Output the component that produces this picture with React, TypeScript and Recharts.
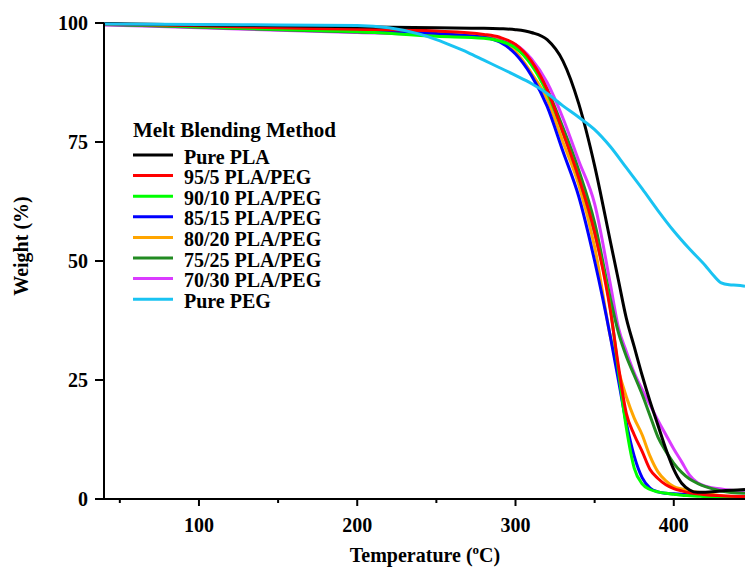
import React from 'react';
import { LineChart, Line, XAxis, YAxis, Legend } from 'recharts';

// temperatures (°C) shared by the PLA and blend curves
const blendTemps = [40, 100, 150, 200, 250, 280, 290, 300, 310, 320, 330, 340, 350, 360, 365, 370, 375, 380, 385, 390, 395, 400, 405, 410, 415, 420, 430, 445];

const purePLA = [99.9, 99.6, 99.4, 99.2, 99.0, 98.9, 98.8, 98.6, 98.0, 96.5, 92, 83, 70, 54, 46, 38, 32, 26, 20.5, 15.5, 10.5, 6.2, 3.3, 1.9, 1.4, 1.4, 1.7, 2.0];
const pla95 = [99.8, 99.4, 99.0, 98.7, 98.3, 97.6, 97.0, 95.5, 92, 86, 77, 67.5, 56, 39.5, 28, 18, 13.5, 10, 6.2, 4.3, 3, 2.2, 1.7, 1.3, 1.1, 0.9, 0.7, 0.5];
const pla90 = [99.8, 99.2, 98.7, 98.2, 97.2, 96.8, 96.2, 94.8, 91.2, 85.3, 77, 67.5, 56, 40, 27, 15, 6.5, 3.2, 2.0, 1.5, 1.2, 1.0, 0.8, 0.7, 0.6, 0.5, 0.4, 0.3];
const pla85 = [99.8, 99.3, 98.8, 98.4, 97.8, 97, 96, 93.5, 89, 82.5, 73, 63.5, 50, 34, 25, 16, 9, 4.5, 2.3, 1.5, 1.2, 1.1, 1.0, 0.9, 0.8, 0.7, 0.5, 0.4];
const pla80 = [99.8, 99.3, 98.8, 98.4, 97.8, 97, 96.2, 94, 89.5, 84, 75, 66, 53, 34, 27, 21.5, 17, 13.5, 9, 5.7, 3.8, 2.6, 2.1, 1.7, 1.4, 1.2, 0.7, 0.4];
const pla75 = [99.7, 99.1, 98.6, 98.1, 97.6, 97, 96.3, 94.8, 91.5, 86, 78, 69, 58, 42, 35, 30, 26, 22, 17.5, 13, 10, 7.5, 5.6, 4.2, 3.3, 2.6, 1.7, 1.2];
const pla70 = [99.6, 99, 98.5, 98, 97.5, 97, 96.5, 95.5, 92.5, 87.5, 80, 71, 62, 45, 36, 31, 26.5, 23, 19.8, 16.5, 13.5, 10.5, 7.8, 5, 3.4, 2.7, 2.1, 1.5];

const pegTemps = [40, 100, 150, 200, 220, 240, 250, 260, 270, 280, 290, 300, 310, 320, 330, 340, 350, 360, 370, 380, 390, 400, 410, 420, 425, 430, 435, 440, 445];
const purePEG = [99.8, 99.7, 99.6, 99.5, 99, 97.6, 96.5, 95.2, 93.8, 92.2, 90.6, 89, 87.3, 85.2, 82.6, 80.2, 77.6, 74, 69.6, 65.2, 60.6, 56.3, 52.5, 49, 47, 45.4, 45, 44.9, 44.7];

const xTicks = [50, 100, 150, 200, 250, 300, 350, 400];
const yTicks = [0, 25, 50, 75, 100];

const FONT = '"Liberation Serif", "Times New Roman", serif';

const toPoints = (temps: number[], vals: number[]) => temps.map((t, i) => ({ t, w: vals[i] }));

// legend order
const series = [
  { name: 'Pure PLA', color: '#000000', temps: blendTemps, vals: purePLA },
  { name: '95/5 PLA/PEG', color: '#FF0000', temps: blendTemps, vals: pla95 },
  { name: '90/10 PLA/PEG', color: '#00FF00', temps: blendTemps, vals: pla90 },
  { name: '85/15 PLA/PEG', color: '#0000FF', temps: blendTemps, vals: pla85 },
  { name: '80/20 PLA/PEG', color: '#FFA500', temps: blendTemps, vals: pla80 },
  { name: '75/25 PLA/PEG', color: '#228B22', temps: blendTemps, vals: pla75 },
  { name: '70/30 PLA/PEG', color: '#DA3BFF', temps: blendTemps, vals: pla70 },
  { name: 'Pure PEG', color: '#19C3F2', temps: pegTemps, vals: purePEG },
];

// drawing order (later = on top)
const drawOrder = [6, 5, 4, 3, 2, 1, 0, 7];

const XTick = (props: any) => {
  const { x, y, payload } = props;
  const major = payload.value % 100 === 0;
  return (
    <g>
      <line x1={x} x2={x} y1={y} y2={y + (major ? 7 : 4)} stroke="#000" strokeWidth={2} />
      {major && (
        <text x={x} y={y + 33} textAnchor="middle" fontFamily={FONT} fontWeight="bold" fontSize={20} fill="#000">
          {payload.value}
        </text>
      )}
    </g>
  );
};

const YTick = (props: any) => {
  const { x, y, payload } = props;
  return (
    <g>
      <line x1={x - 9} x2={x} y1={y} y2={y} stroke="#000" strokeWidth={2} />
      <text x={x - 16} y={y + 7} textAnchor="end" fontFamily={FONT} fontWeight="bold" fontSize={20} fill="#000">
        {payload.value}
      </text>
    </g>
  );
};

const renderLegend = () => (
  <svg width={260} height={210} style={{ display: 'block' }}>
    <text x={13} y={26.5} fontFamily={FONT} fontWeight="bold" fontSize={21} fill="#000">
      Melt Blending Method
    </text>
    {series.map((s, i) => {
      const cy = 46.5 + i * 20.6;
      return (
        <g key={s.name}>
          <line x1={13} x2={53} y1={cy - 1.5} y2={cy - 1.5} stroke={s.color} strokeWidth={3} />
          <text x={64} y={cy + 7} fontFamily={FONT} fontWeight="bold" fontSize={20} fill="#000">
            {s.name}
          </text>
        </g>
      );
    })}
  </svg>
);

export default function App() {
  return (
    <div style={{ position: 'absolute', left: 0, top: 0, width: 745, height: 574, background: '#fff' }}>
      <LineChart width={745} height={574} margin={{ top: 23, right: 0, bottom: 0, left: 0 }}>
        <XAxis
          dataKey="t"
          type="number"
          domain={[40, 445]}
          allowDataOverflow
          ticks={xTicks}
          interval={0}
          height={75}
          tickSize={0}
          tickMargin={0}
          tickLine={false}
          tick={<XTick />}
          axisLine={{ stroke: '#000', strokeWidth: 2 }}
        />
        <YAxis
          type="number"
          domain={[0, 100]}
          ticks={yTicks}
          interval={0}
          width={104}
          tickSize={0}
          tickMargin={0}
          tickLine={false}
          tick={<YTick />}
          axisLine={{ stroke: '#000', strokeWidth: 2 }}
        />
        <Legend
          content={renderLegend}
          layout="horizontal"
          verticalAlign="middle"
          align="center"
          wrapperStyle={{ position: 'absolute', left: 120, top: 110, width: 260, height: 210 }}
        />
        {drawOrder.map((idx) => {
          const s = series[idx];
          return (
            <Line
              key={s.name}
              name={s.name}
              data={toPoints(s.temps, s.vals)}
              dataKey="w"
              type="monotone"
              stroke={s.color}
              strokeWidth={3}
              dot={false}
              activeDot={false}
              isAnimationActive={false}
            />
          );
        })}
      </LineChart>
      <svg width={745} height={574} style={{ position: 'absolute', left: 0, top: 0, pointerEvents: 'none' }}>
        <text
          x={28}
          y={246}
          transform="rotate(-90, 28, 246)"
          textAnchor="middle"
          fontFamily={FONT}
          fontWeight="bold"
          fontSize={20}
          fill="#000"
        >
          Weight (%)
        </text>
        <text x={425} y={562} textAnchor="middle" fontFamily={FONT} fontWeight="bold" fontSize={20} fill="#000">
          Temperature (<tspan dy={-8} fontSize={13}>o</tspan>
          <tspan dy={8}>C)</tspan>
        </text>
      </svg>
    </div>
  );
}
